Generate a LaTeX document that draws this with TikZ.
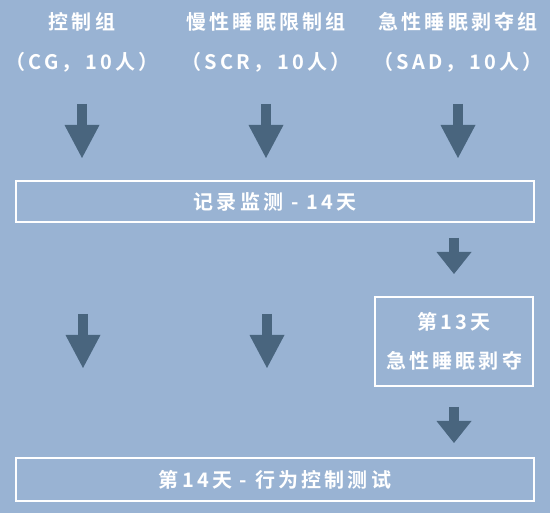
\documentclass[tikz,border=0pt]{standalone}
\usepackage{fontspec}
\newfontfamily\cjk[LetterSpace=16]{Noto Sans CJK SC Bold}
\usetikzlibrary{arrows.meta,positioning}
\definecolor{bgblue}{RGB}{153,179,211}
\definecolor{slate}{RGB}{73,101,126}
\tikzset{
	head/.style={text=white,font=\cjk\fontsize{20}{24}\selectfont,inner sep=0pt},
	box/.style={draw=white,line width=2pt,text=white,align=center,inner sep=0pt,font=\cjk\fontsize{20}{39}\selectfont},
	bigarrow/.style={draw=slate,line width=9.5pt,-{Triangle[length=33pt,width=35pt,line width=0pt]}},
	smallarrow/.style={draw=slate,line width=9.5pt,-{Triangle[length=22pt,width=35pt,line width=0pt]}}
}

\begin{document}
\begin{tikzpicture}[x=1pt,y=-1pt]
			\fill[bgblue] (0,0) rectangle (550,513);
			
			\node[head] (cg) at (82,22) {控制组};
			\node[head] (cgn) at (82,62) {（CG，10人）};
			\node[head] (scr) at (266,22) {慢性睡眠限制组};
			\node[head] (scrn) at (266,62) {（SCR，10人）};
			\node[head] (sad) at (458,22) {急性睡眠剥夺组};
			\node[head] (sadn) at (458,62) {（SAD，10人）};
			
			\node[box,minimum width=518pt,minimum height=41pt] (rec) at (275,201.5) {记录监测 - 14天};
			\node[box,minimum width=158pt,minimum height=89pt] (dep) at (454,341.5) {第13天\\急性睡眠剥夺};
			\node[box,minimum width=518pt,minimum height=43pt] (test) at (275,479.5) {第14天 - 行为控制测试};
			
			\coordinate (cgs) at (82,104);
			\coordinate (cge) at (82,158);
			\coordinate (scrs) at (266,104);
			\coordinate (scre) at (266,158);
			\coordinate (sads) at (458,104);
			\coordinate (sade) at (458,158);
			\coordinate (recs) at (454,238);
			\coordinate (rece) at (454,274);
			\coordinate (deps) at (454,407);
			\coordinate (depe) at (454,443);
			\coordinate (cgms) at (83,314);
			\coordinate (cgme) at (83,368);
			\coordinate (scrms) at (267,314);
			\coordinate (scrme) at (267,368);
			
			\draw[bigarrow] (cgs) -- (cge);
			\draw[bigarrow] (scrs) -- (scre);
			\draw[bigarrow] (sads) -- (sade);
			\draw[smallarrow] (recs) -- (rece);
			\draw[smallarrow] (deps) -- (depe);
			\draw[bigarrow] (cgms) -- (cgme);
			\draw[bigarrow] (scrms) -- (scrme);
		\end{tikzpicture}
\end{document}
